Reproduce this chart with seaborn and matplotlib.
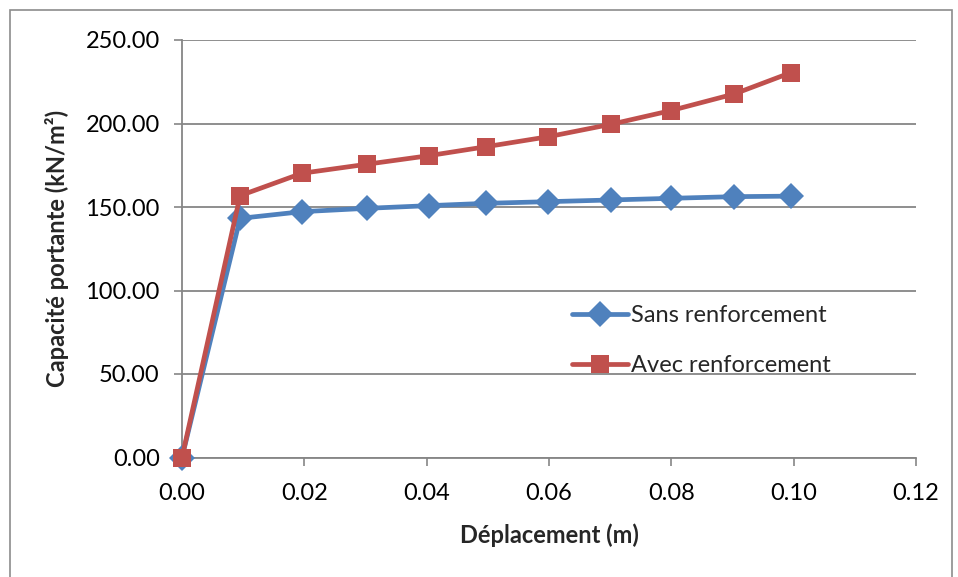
import matplotlib
matplotlib.use("Agg")
import matplotlib.pyplot as plt
import seaborn as sns
import pandas as pd
from matplotlib.patches import Rectangle
from matplotlib.lines import Line2D

deplacement = [0.0, 0.0095, 0.0196, 0.0302, 0.0403, 0.0497, 0.0599, 0.0701, 0.0799, 0.0903, 0.0995]
sans = [0.0, 143.2, 147.2, 149.2, 150.8, 152.2, 153.2, 154.2, 155.2, 156.2, 156.5]
avec = [0.0, 156.8, 170.2, 175.6, 180.7, 186.1, 192.1, 199.5, 207.7, 217.7, 230.4]
series_names = ["Sans renforcement", "Avec renforcement"]
colors = ["#4F81BD", "#C0504D"]
yticks = [0, 50, 100, 150, 200, 250]
xticks = [0.0, 0.02, 0.04, 0.06, 0.08, 0.10, 0.12]

df = pd.DataFrame({
    "x": deplacement * 2,
    "y": sans + avec,
    "serie": [series_names[0]] * len(sans) + [series_names[1]] * len(avec),
})

sns.set_style("white")
plt.rcParams["font.family"] = ["Lato", "DejaVu Sans"]

FS = 17
LW = 3.4
fig = plt.figure(figsize=(9.58, 5.77), dpi=100)
ax = fig.add_axes([182/958, 1-457.5/577, (916-182)/958, (457.5-40)/577])

fig.patches.append(Rectangle((10/958, -0.1), (952-10)/958, 1.1 - 10/577,
                             transform=fig.transFigure, fill=False,
                             edgecolor="#8c8c8c", linewidth=1.2))

sns.lineplot(data=df, x="x", y="y", hue="serie", style="serie",
             markers={series_names[0]: "D", series_names[1]: "s"},
             dashes=False, palette=dict(zip(series_names, colors)),
             linewidth=LW, markersize=13, markeredgewidth=0,
             ax=ax, legend=False, clip_on=False, zorder=3)

ax.set_xlim(0, 0.12)
ax.set_ylim(0, 250)
ax.set_xticks(xticks)
ax.set_yticks(yticks)
ax.set_xticklabels([f"{v:.2f}" for v in xticks])
ax.set_yticklabels([f"{v:.2f}" for v in yticks])
ax.tick_params(axis="both", labelsize=FS, colors="#868686", labelcolor="black",
               length=6, width=1.2, direction="out")
ax.tick_params(axis="x", pad=12, bottom=True)
ax.tick_params(axis="y", pad=10, left=True)
ax.yaxis.grid(True, color="#868686", linewidth=1.3)
ax.set_axisbelow(True)
for s in ["top", "right"]:
    ax.spines[s].set_visible(False)
for s in ["left", "bottom"]:
    ax.spines[s].set_color("#868686")
    ax.spines[s].set_linewidth(1.3)

ax.set_xlabel("Déplacement (m)", fontsize=FS, fontweight="bold", labelpad=14)
ax.set_ylabel("Capacité portante (kN/m²)", fontsize=FS, fontweight="bold", labelpad=12)

handles = [Line2D([], [], color=colors[0], marker="D", linewidth=LW, markersize=13, markeredgewidth=0),
           Line2D([], [], color=colors[1], marker="s", linewidth=LW, markersize=13, markeredgewidth=0)]
ax.legend(handles, series_names, loc="upper left", bbox_to_anchor=(560/958, 1-293/577),
          bbox_transform=fig.transFigure, frameon=False, fontsize=FS,
          handlelength=2.4, handletextpad=0.1, labelspacing=1.25, borderpad=0)

fig.savefig("out.png", dpi=100)
